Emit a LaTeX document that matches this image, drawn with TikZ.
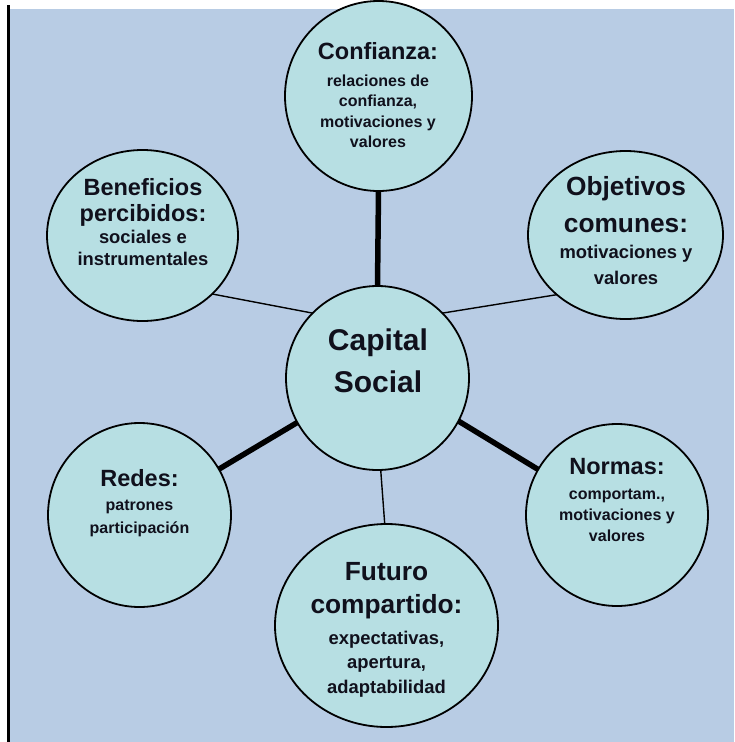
\documentclass[tikz,border=0pt]{standalone}
\usepackage{fontspec}
\setmainfont{Liberation Sans}
\usetikzlibrary{shapes.geometric}
\definecolor{bgblue}{HTML}{B8CCE4}
\definecolor{aqua}{HTML}{B7DFE3}
\definecolor{txt}{HTML}{10101C}
\begin{document}
\begin{tikzpicture}[x=1pt,y=-1pt,
  bubble/.style={ellipse, draw=black, line width=1.8pt, fill=aqua, inner sep=0pt, outer sep=0pt},
  thinlink/.style={line width=1.4pt},
  thicklink/.style={line width=5.5pt},
  ttlA/.style={font=\fontsize{23.5}{28}\selectfont\bfseries, text=txt, anchor=base, inner sep=0pt},
  ttlB/.style={font=\fontsize{26.3}{30}\selectfont\bfseries, text=txt, anchor=base, inner sep=0pt},
  subA/.style={font=\fontsize{16}{19}\selectfont\bfseries, text=txt, anchor=base, inner sep=0pt},
  subB/.style={font=\fontsize{18.4}{22}\selectfont\bfseries, text=txt, anchor=base, inner sep=0pt},
  core/.style={font=\fontsize{30}{36}\selectfont\bfseries, text=txt, anchor=base, inner sep=0pt}]
\useasboundingbox (0,0) rectangle (734,742);
\fill[bgblue] (9.5,9) rectangle (734,742);
\fill[black] (7,5) rectangle (10,742);

% bubbles
\node[bubble, minimum width=187pt, minimum height=190pt] (conf) at (378.5,96) {};
\node[bubble, minimum width=191pt, minimum height=171pt] (ben) at (142.5,235.5) {};
\node[bubble, minimum width=195pt, minimum height=168pt] (obj) at (625.5,235) {};
\node[bubble, minimum width=183pt, minimum height=184pt] (cap) at (377.5,378) {};
\node[bubble, minimum width=182pt, minimum height=182pt] (norm) at (617,515) {};
\node[bubble, minimum width=183pt, minimum height=184pt] (red) at (139.5,515) {};
\node[bubble, minimum width=223pt, minimum height=203pt] (fut) at (386.5,625.5) {};

% connectors
\draw[thicklink] (conf.-90) -- (cap.90);
\draw[thinlink] (ben.-40) -- (cap.135);
\draw[thinlink] (obj.-139.6) -- (cap.45.4);
\draw[thicklink] (cap.-28.8) -- (norm.150.2);
\draw[thicklink] (red.30.8) -- (cap.-151.8);
\draw[thinlink] (cap.-88) -- (fut.91.4);

% texts
\node[ttlA] (conf-t) at (378,59) {Confianza:};
\node[subA] (conf-1) at (378,86) {relaciones de};
\node[subA] (conf-2) at (378,106.5) {confianza,};
\node[subA] (conf-3) at (378,127) {motivaciones y};
\node[subA] (conf-4) at (378,147) {valores};

\node[ttlA] (ben-t1) at (143,195) {Beneficios};
\node[ttlA] (ben-t2) at (143,221.5) {percibidos:};
\node[subB] (ben-1) at (143,243.5) {sociales e};
\node[subB] (ben-2) at (143,265) {instrumentales};

\node[ttlB] (obj-t1) at (626,195) {Objetivos};
\node[ttlB] (obj-t2) at (626,232) {comunes:};
\node[subB] (obj-1) at (626,258) {motivaciones y};
\node[subB] (obj-2) at (626,284) {valores};

\node[core] (cap-1) at (378,350) {Capital};
\node[core] (cap-2) at (378,392) {Social};

\node[ttlA] (norm-t) at (617,474) {Normas:};
\node[subA] (norm-1) at (617,499) {comportam.,};
\node[subA] (norm-2) at (617,520) {motivaciones y};
\node[subA] (norm-3) at (617,541) {valores};

\node[ttlA] (red-t) at (139.5,486) {Redes:};
\node[subA] (red-1) at (139.5,510) {patrones};
\node[subA] (red-2) at (139.5,533) {participación};

\node[ttlB] (fut-t1) at (386.5,580) {Futuro};
\node[ttlB] (fut-t2) at (386.5,613) {compartido:};
\node[subB] (fut-1) at (386.5,644) {expectativas,};
\node[subB] (fut-2) at (386.5,668) {apertura,};
\node[subB] (fut-3) at (386.5,693) {adaptabilidad};
\end{tikzpicture}
\end{document}
